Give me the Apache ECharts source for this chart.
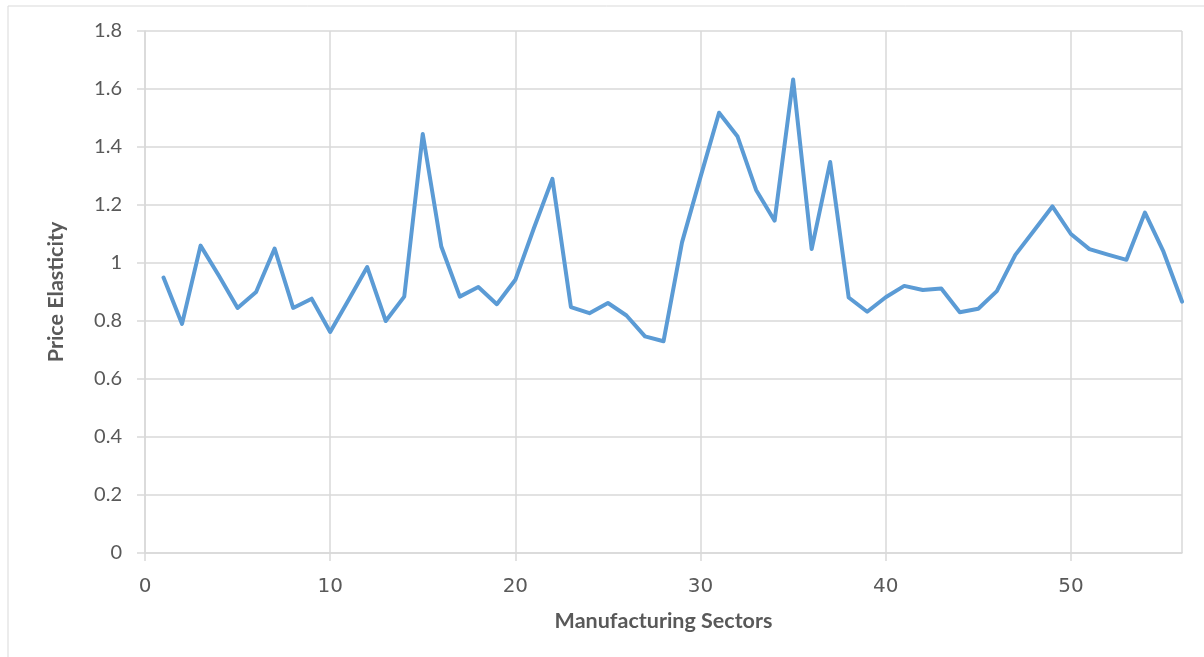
<!DOCTYPE html>
<html>
<head>
<meta charset="utf-8">
<script src="https://cdn.jsdelivr.net/npm/echarts@6/dist/echarts.min.js"></script>
<style>
  html, body { margin: 0; padding: 0; background: #fff; }
  #chart { width: 1204px; height: 657px; }
</style>
</head>
<body>
<div id="chart"></div>
<script>
// Sector numbers (1..56) and their estimated price elasticities
const sectors = [
  1, 2, 3, 4, 5, 6, 7, 8, 9, 10,
  11, 12, 13, 14, 15, 16, 17, 18, 19, 20,
  21, 22, 23, 24, 25, 26, 27, 28, 29, 30,
  31, 32, 33, 34, 35, 36, 37, 38, 39, 40,
  41, 42, 43, 44, 45, 46, 47, 48, 49, 50,
  51, 52, 53, 54, 55, 56
];
const elasticity = [
  0.95, 0.79, 1.06, 0.955, 0.845, 0.90, 1.05, 0.845, 0.877, 0.762,
  0.873, 0.986, 0.80, 0.884, 1.445, 1.057, 0.884, 0.917, 0.858, 0.942,
  1.12, 1.29, 0.848, 0.827, 0.862, 0.819, 0.747, 0.73, 1.071, 1.297,
  1.518, 1.436, 1.252, 1.146, 1.633, 1.048, 1.348, 0.881, 0.832, 0.882,
  0.921, 0.907, 0.912, 0.83, 0.842, 0.903, 1.028, 1.111, 1.195, 1.10,
  1.048, 1.029, 1.011, 1.174, 1.039, 0.867
];
const xTitle = 'Manufacturing Sectors';
const yTitle = 'Price Elasticity';

const points = sectors.map((s, i) => [s, elasticity[i]]);

const gridColor = '#d9d9d9';
const textColor = '#595959';

const chart = echarts.init(document.getElementById('chart'), null, { renderer: 'canvas' });
chart.setOption({
  animation: false,
  backgroundColor: '#fff',
  graphic: [{
    type: 'rect',
    shape: { x: 8, y: 6, width: 1210, height: 670 },
    style: { fill: 'none', stroke: '#d9d9d9', lineWidth: 1 },
    silent: true
  }],
  grid: { left: 145, right: 22, top: 31, bottom: 104, containLabel: false },
  xAxis: {
    type: 'value',
    min: 0, max: 56, interval: 10,
    name: xTitle,
    nameLocation: 'middle',
    nameGap: 57,
    nameTextStyle: { fontFamily: 'Lato', fontWeight: 'bold', fontSize: 21.5, color: textColor },
    axisLine: { show: true, lineStyle: { color: gridColor, width: 1.5 } },
    axisTick: { show: true, length: 8, lineStyle: { color: gridColor, width: 1.5 } },
    splitLine: { show: true, lineStyle: { color: gridColor, width: 1.5 } },
    axisLabel: {
      fontFamily: 'DejaVu Sans', fontSize: 20, color: textColor, margin: 24,
      showMaxLabel: false
    }
  },
  yAxis: {
    type: 'value',
    min: 0, max: 1.8, interval: 0.2,
    name: yTitle,
    nameLocation: 'middle',
    nameGap: 78,
    nameRotate: 90,
    nameTextStyle: { fontFamily: 'Lato', fontWeight: 'bold', fontSize: 21.5, color: textColor },
    axisLine: { show: true, lineStyle: { color: gridColor, width: 1.5 } },
    axisTick: { show: true, length: 8, lineStyle: { color: gridColor, width: 1.5 } },
    splitLine: { show: true, lineStyle: { color: gridColor, width: 1.5 } },
    axisLabel: {
      fontFamily: 'Lato', fontSize: 20, color: textColor, margin: 23,
      formatter: v => String(Math.round(v * 10) / 10)
    }
  },
  series: [{
    type: 'line',
    data: points,
    showSymbol: false,
    symbol: 'none',
    lineStyle: { color: '#5b9bd5', width: 4, join: 'round', cap: 'round' },
    itemStyle: { color: '#5b9bd5' }
  }]
});
</script>
</body>
</html>
